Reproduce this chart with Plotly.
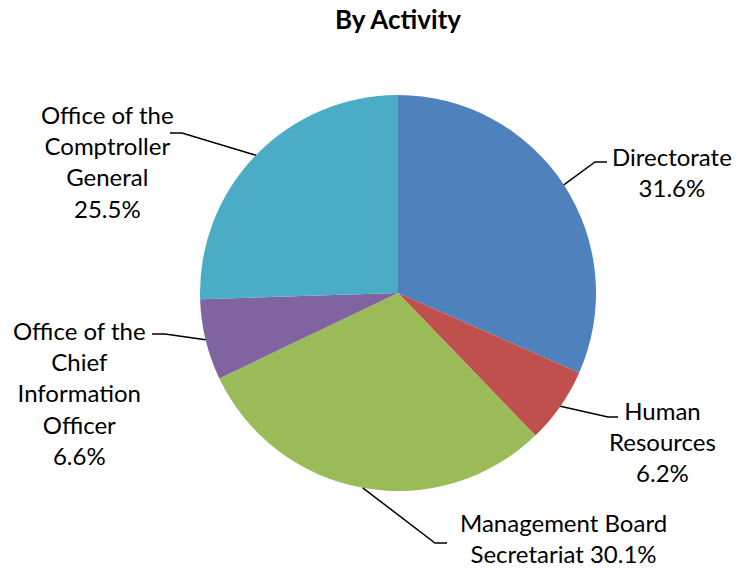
import math
import plotly.graph_objects as go

categories = ["Directorate", "Human Resources", "Management Board Secretariat",
              "Office of the Chief Information Officer", "Office of the Comptroller General"]
values = [31.6, 6.2, 30.1, 6.6, 25.5]
label_texts = ["Directorate<br>31.6%", "Human<br>Resources<br>6.2%",
               "Management Board<br>Secretariat 30.1%",
               "Office of the<br>Chief<br>Information<br>Officer<br>6.6%",
               "Office of the<br>Comptroller<br>General<br>25.5%"]
colors = ["#4F81BD", "#C0504D", "#9BBB59", "#8064A2", "#4BACC6"]

W, H = 750, 572
CX, CY, R = 398, 293, 198
FONT = "Lato"

# layout: label elbow points (px), horizontal stub end (px), text centre (px)
elbows = [(595, 162), (608, 417), (435, 543), (165, 334), (182, 133)]
stubs = [(607, 162), (618, 417), (447, 543), (152, 334), (170, 133)]
text_centres = [(672, 172), (662, 441), (563, 538), (79, 393), (108, 161)]

def px(x, y):
    return x / W, 1 - y / H

fig = go.Figure(go.Pie(
    labels=categories, values=values, sort=False, direction="clockwise",
    rotation=0, marker=dict(colors=colors, line=dict(width=0)),
    textinfo="none", hoverinfo="label+percent", showlegend=False,
    domain=dict(x=[(CX - R) / W, (CX + R) / W], y=[1 - (CY + R) / H, 1 - (CY - R) / H]),
))

total = sum(values)
cum = 0
shapes, annotations = [], []
for i, v in enumerate(values):
    mid = (cum + v / 2) / total * 2 * math.pi
    cum += v
    ex, ey = CX + R * math.sin(mid), CY - R * math.cos(mid)
    p0 = px(ex, ey); p1 = px(*elbows[i]); p2 = px(*stubs[i])
    shapes.append(dict(type="path", xref="paper", yref="paper",
                       path=f"M {p0[0]} {p0[1]} L {p1[0]} {p1[1]} L {p2[0]} {p2[1]}",
                       line=dict(color="black", width=1.5)))
    tx, ty = px(*text_centres[i])
    annotations.append(dict(x=tx, y=ty, xref="paper", yref="paper", text=label_texts[i],
                            showarrow=False, xanchor="center", yanchor="middle",
                            font=dict(family=FONT, size=24, color="black")))

fig.update_layout(
    width=W, height=H, margin=dict(l=0, r=0, t=0, b=0),
    paper_bgcolor="white", plot_bgcolor="white",
    title=dict(text="<b>By Activity</b>", x=CX / W, xanchor="center",
               y=1 - 20 / H, yanchor="middle",
               font=dict(family=FONT, size=26, color="black")),
    shapes=shapes, annotations=annotations,
)
fig.write_html("out.html", config={"displayModeBar": False},
               post_script="document.body.style.margin='0';")
